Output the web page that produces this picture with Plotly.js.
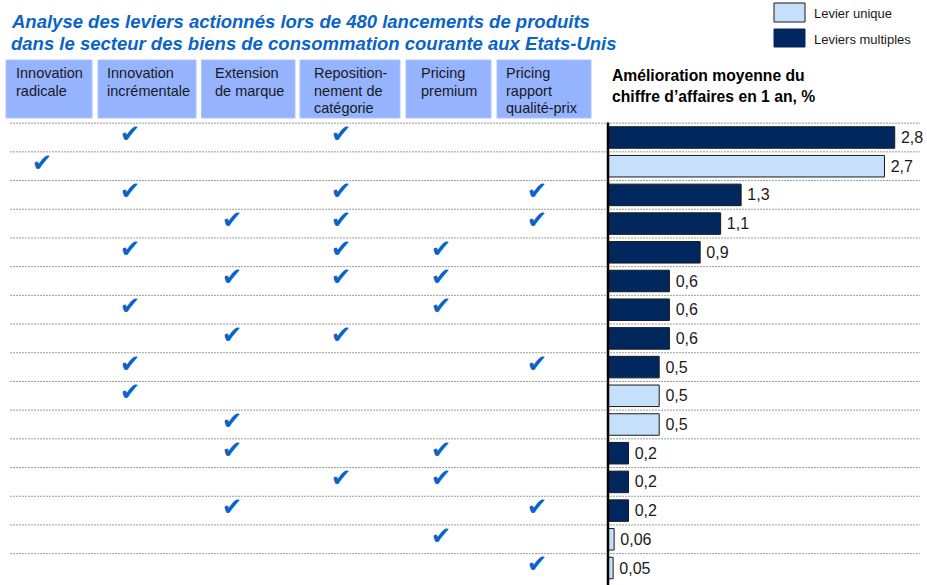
<!DOCTYPE html>
<html><head><meta charset="utf-8">
<script src="https://cdn.plot.ly/plotly-3.0.1.min.js"></script>
<style>html,body{margin:0;padding:0;background:#fff;}#chart{width:927px;height:585px;}</style>
</head><body><div id="chart"></div>
<script>
// ---------- data ----------
const titleLines = ["Analyse des leviers actionnés lors de 480 lancements de produits",
                    "dans le secteur des biens de consommation courante aux Etats-Unis"];
const levers = ["Innovation radicale", "Innovation incrémentale", "Extension de marque",
                "Repositionnement de catégorie", "Pricing premium", "Pricing rapport qualité-prix"];
const leverLabels = [["Innovation", "radicale"], ["Innovation", "incrémentale"], ["Extension", "de marque"],
                     ["Reposition-", "nement de", "catégorie"], ["Pricing", "premium"], ["Pricing", "rapport", "qualité-prix"]];
const valueTitle = ["Amélioration moyenne du", "chiffre d’affaires en 1 an, %"];
const improvement = [2.8, 2.7, 1.3, 1.1, 0.9, 0.6, 0.6, 0.6, 0.5, 0.5, 0.5, 0.2, 0.2, 0.2, 0.06, 0.05];
const leverType = ["multiple", "unique", "multiple", "multiple", "multiple", "multiple", "multiple", "multiple",
                   "multiple", "unique", "unique", "multiple", "multiple", "multiple", "unique", "unique"];
// indices into levers for each launch combination (row)
const combos = [[1, 3], [0], [1, 3, 5], [2, 3, 5], [1, 3, 4], [2, 3, 4], [1, 4], [2, 3],
                [1, 5], [1], [2], [2, 4], [3, 4], [2, 5], [4], [5]];
const legendTypes = ["unique", "multiple"];
const legendLabels = ["Levier unique", "Leviers multiples"];

// ---------- layout constants ----------
const W = 927, H = 585;
const rowCenter0 = 137.5, rowStep = 28.7;
const zeroX = 608, pxPerUnit = 102.4;
const colCenters = [42, 130, 232, 341, 441, 537];
const boxX = [[6, 92], [98, 196], [201.5, 295], [300, 400], [406, 491], [497, 591]];
const boxTextLeft = [14, 105, 213, 312, 419, 504];
const boxTop = 60, boxBottom = 118;
const FONT = "Liberation Sans, Arial, sans-serif";
const colors = {unique: "#c6dffa", multiple: "#00285e"};
const px = x => x / W;
const py = y => 1 - y / H;

// ---------- traces ----------
const fmt = v => "\u2009" + String(v).replace(".", ",");
const traces = ["multiple", "unique"].map(t => {
  const idx = improvement.map((v, i) => i).filter(i => leverType[i] === t);
  return {
    type: "bar", orientation: "h",
    name: legendLabels[legendTypes.indexOf(t)],
    y: idx, x: idx.map(i => improvement[i]),
    text: idx.map(i => fmt(improvement[i])),
    textposition: "outside", constraintext: "none", cliponaxis: false,
    textfont: {family: FONT, size: 16, color: "#1a1a1a"},
    width: 0.75,
    marker: {color: colors[t], line: {color: "#1a1a1a", width: 1}},
    showlegend: false, hoverinfo: "skip", xaxis: "x", yaxis: "y"
  };
});
const chkX = [], chkY = [];
combos.forEach((c, r) => c.forEach(l => { chkX.push(colCenters[l]); chkY.push(r - 0.06); }));
traces.push({
  type: "scatter", mode: "text", x: chkX, y: chkY, text: chkX.map(() => "✔"),
  textposition: "middle center",
  textfont: {family: "DejaVu Sans", size: 24.5, color: "#0a64c8"},
  xaxis: "x2", yaxis: "y", showlegend: false, hoverinfo: "skip", cliponaxis: false
});

// ---------- shapes & annotations ----------
const shapes = [], annotations = [];
titleLines.forEach((t, i) => annotations.push({
  xref: "paper", yref: "paper", x: px(9), y: py(22 + 22 * i), xanchor: "left", yanchor: "middle",
  text: "<b><i>" + t + "</i></b>", showarrow: false,
  font: {family: FONT, size: 18.5, color: "#0a64c8"}
}));
boxX.forEach((b, i) => {
  shapes.push({type: "rect", xref: "paper", yref: "paper", x0: px(b[0]), x1: px(b[1]), y0: py(boxBottom), y1: py(boxTop),
               fillcolor: "#95b3ff", line: {color: "#aac2ff", width: 1}, layer: "below"});
  leverLabels[i].forEach((ln, j) => annotations.push({
    xref: "paper", yref: "paper", x: px(boxTextLeft[i]), y: py(73 + 17.5 * j), xanchor: "left", yanchor: "middle",
    text: ln, showarrow: false, font: {family: FONT, size: 14.5, color: "#1a1a1a"}
  }));
});
valueTitle.forEach((t, i) => annotations.push({
  xref: "paper", yref: "paper", x: px(610), y: py(75 + 22 * i), xanchor: "left", yanchor: "middle",
  text: "<b>" + t + "</b>", showarrow: false, font: {family: FONT, size: 15.7, color: "#000"}
}));
// row separators
for (let k = -1; k < improvement.length - 1; k++) {
  shapes.push({type: "line", xref: "paper", yref: "y", x0: px(10), x1: px(920), y0: k + 0.5, y1: k + 0.5,
               line: {color: "#9a9a9a", width: 1, dash: "2px,1px"}, layer: "below"});
}
// bar axis line
shapes.push({type: "line", xref: "x", yref: "paper", x0: 0, x1: 0, y0: 0, y1: py(122.5),
             line: {color: "#000", width: 2.5}, layer: "above"});
// legend
legendTypes.forEach((t, i) => {
  const y0 = i === 0 ? 3 : 29, y1 = i === 0 ? 22 : 47;
  shapes.push({type: "rect", xref: "paper", yref: "paper", x0: px(774), x1: px(805), y0: py(y1), y1: py(y0),
               fillcolor: colors[t], line: {color: t === "unique" ? "#1a1a1a" : colors[t], width: 1}});
  annotations.push({xref: "paper", yref: "paper", x: px(812), y: py(13.5 + 26 * i), xanchor: "left", yanchor: "middle",
                    text: legendLabels[i], showarrow: false, font: {family: FONT, size: 13, color: "#1a1a1a"}});
});

const layout = {
  width: W, height: H, margin: {l: 0, r: 0, t: 0, b: 0},
  paper_bgcolor: "#fff", plot_bgcolor: "rgba(0,0,0,0)",
  barmode: "overlay", showlegend: false,
  xaxis: {domain: [0, 1], range: [-zeroX / pxPerUnit, (W - zeroX) / pxPerUnit], visible: false, fixedrange: true},
  xaxis2: {domain: [0, 1], range: [0, W], overlaying: "x", visible: false, fixedrange: true},
  yaxis: {domain: [0, 1], range: [(H - rowCenter0) / rowStep, -rowCenter0 / rowStep], visible: false, fixedrange: true},
  shapes: shapes, annotations: annotations
};
Plotly.newPlot("chart", traces, layout, {staticPlot: true});
</script></body></html>
